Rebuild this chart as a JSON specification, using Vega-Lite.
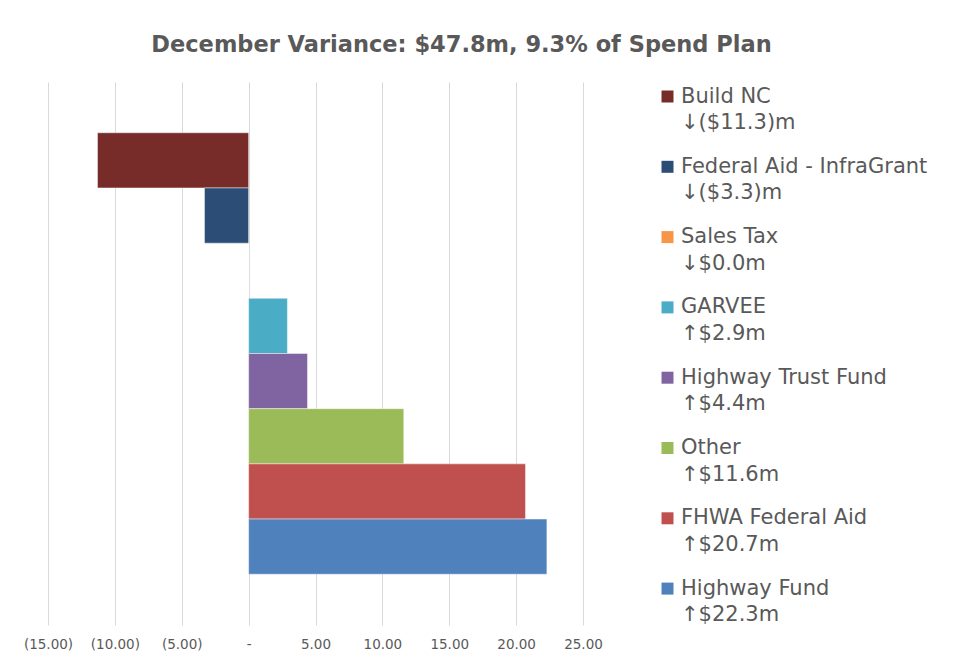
{
  "$schema": "https://vega.github.io/schema/vega-lite/v6.json",
  "width": 535,
  "height": 543,
  "autosize": {"type": "none"},
  "padding": {"left": 48, "top": 82, "right": 392, "bottom": 28},
  "background": "white",
  "title": {
    "text": "December Variance: $47.8m, 9.3% of Spend Plan",
    "font": "DejaVu Sans",
    "fontSize": 22.5,
    "fontWeight": "bold",
    "color": "#595959",
    "anchor": "middle",
    "frame": "group",
    "dx": 146,
    "offset": 26
  },
  "data": {
    "values": [
      {"name": "Build NC", "value": -11.3, "legend": "Build NC|↓($11.3)m", "order": 1},
      {"name": "Federal Aid - InfraGrant", "value": -3.3, "legend": "Federal Aid - InfraGrant|↓($3.3)m", "order": 2},
      {"name": "Sales Tax", "value": 0.0, "legend": "Sales Tax|↓$0.0m", "order": 3},
      {"name": "GARVEE", "value": 2.9, "legend": "GARVEE|↑$2.9m", "order": 4},
      {"name": "Highway Trust Fund", "value": 4.4, "legend": "Highway Trust Fund|↑$4.4m", "order": 5},
      {"name": "Other", "value": 11.6, "legend": "Other|↑$11.6m", "order": 6},
      {"name": "FHWA Federal Aid", "value": 20.7, "legend": "FHWA Federal Aid|↑$20.7m", "order": 7},
      {"name": "Highway Fund", "value": 22.3, "legend": "Highway Fund|↑$22.3m", "order": 8}
    ]
  },
  "mark": {"type": "bar", "stroke": "white", "strokeOpacity": 0.45, "strokeWidth": 1},
  "encoding": {
    "y": {
      "field": "name",
      "type": "nominal",
      "sort": {"field": "order"},
      "axis": null,
      "scale": {"paddingInner": 0, "paddingOuter": 0.92}
    },
    "x": {
      "field": "value",
      "type": "quantitative",
      "scale": {"domain": [-15, 25], "nice": false, "zero": false},
      "axis": {
        "values": [-15, -10, -5, 0, 5, 10, 15, 20, 25],
        "labelExpr": "datum.value < 0 ? '(' + format(-datum.value, '.2f') + ')' : (datum.value == 0 ? '-' : format(datum.value, '.2f'))",
        "domain": false,
        "ticks": false,
        "grid": true,
        "gridColor": "#D9D9D9",
        "gridWidth": 1,
        "labelFont": "DejaVu Sans",
        "labelFontSize": 13.5,
        "labelColor": "#595959",
        "labelPadding": 12,
        "labelOverlap": false,
        "labelFlush": false,
        "title": null
      }
    },
    "color": {
      "field": "legend",
      "type": "nominal",
      "scale": {
        "domain": [
          "Build NC|↓($11.3)m",
          "Federal Aid - InfraGrant|↓($3.3)m",
          "Sales Tax|↓$0.0m",
          "GARVEE|↑$2.9m",
          "Highway Trust Fund|↑$4.4m",
          "Other|↑$11.6m",
          "FHWA Federal Aid|↑$20.7m",
          "Highway Fund|↑$22.3m"
        ],
        "range": ["#772C2A", "#2C4D75", "#F79646", "#4BACC6", "#8064A2", "#9BBB59", "#C0504D", "#4F81BD"]
      },
      "legend": {
        "orient": "right",
        "offset": 70,
        "padding": 4,
        "title": null,
        "labelExpr": "split(datum.label, '|')",
        "labelFont": "DejaVu Sans",
        "labelFontSize": 21,
        "labelColor": "#595959",
        "labelLimit": 400,
        "labelOffset": 3,
        "labelBaseline": "middle",
        "symbolType": "square",
        "symbolSize": 144,
        "symbolStrokeWidth": 0,
        "symbolOpacity": 1,
        "rowPadding": 22.3
      }
    }
  },
  "config": {
    "view": {"stroke": null},
    "style": {"guide-label": {"lineHeight": 26.5}}
  }
}
